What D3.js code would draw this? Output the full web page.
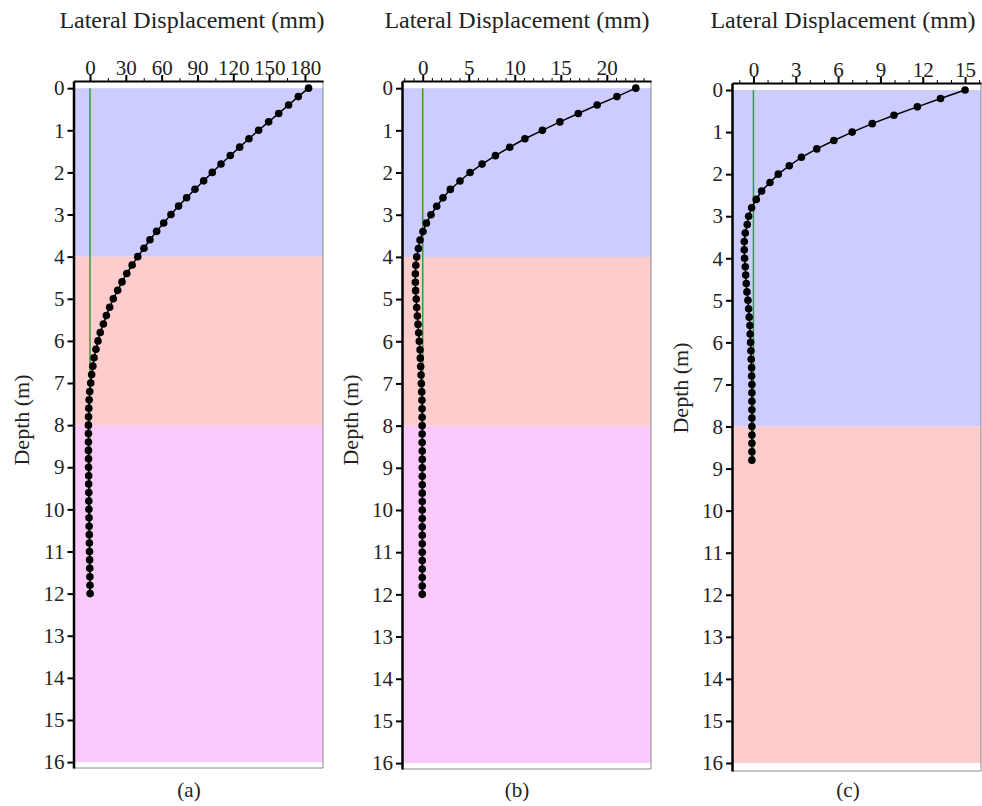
<!DOCTYPE html>
<html>
<head>
<meta charset="utf-8">
<script src="https://cdn.jsdelivr.net/npm/d3@7"></script>
<style>
  body { margin: 0; background: white; }
  svg { display: block; font-family: "Liberation Serif", "Times New Roman", serif; }
</style>
</head>
<body>
<div id="chart"></div>
<script>
// depth of each reading (m)
let depth12 = [0, 0.2, 0.4, 0.6, 0.8, 1.0, 1.2, 1.4, 1.6, 1.8,
  2.0, 2.2, 2.4, 2.6, 2.8, 3.0, 3.2, 3.4, 3.6, 3.8,
  4.0, 4.2, 4.4, 4.6, 4.8, 5.0, 5.2, 5.4, 5.6, 5.8,
  6.0, 6.2, 6.4, 6.6, 6.8, 7.0, 7.2, 7.4, 7.6, 7.8,
  8.0, 8.2, 8.4, 8.6, 8.8, 9.0, 9.2, 9.4, 9.6, 9.8,
  10.0, 10.2, 10.4, 10.6, 10.8, 11.0, 11.2, 11.4, 11.6, 11.8, 12.0];
let depth9 = [0, 0.2, 0.4, 0.6, 0.8, 1.0, 1.2, 1.4, 1.6, 1.8,
  2.0, 2.2, 2.4, 2.6, 2.8, 3.0, 3.2, 3.4, 3.6, 3.8,
  4.0, 4.2, 4.4, 4.6, 4.8, 5.0, 5.2, 5.4, 5.6, 5.8,
  6.0, 6.2, 6.4, 6.6, 6.8, 7.0, 7.2, 7.4, 7.6, 7.8,
  8.0, 8.2, 8.4, 8.6, 8.8];

// lateral displacement (mm)
let dispA = [183, 174.4, 166.3, 158, 149.6, 141.2, 133.1, 125.3, 117.5, 109.7,
  102.4, 95.2, 87.9, 80.9, 74.2, 67.8, 61.7, 55.8, 50.2, 45.2,
  40.0, 35.3, 30.8, 26.8, 23.2, 19.5, 16.5, 13.7, 11.2, 8.6,
  6.7, 5.0, 3.4, 2.4, 1.4, 0.6, -0.2, -0.7, -1.0, -1.2,
  -1.3, -1.3, -1.3, -1.3, -1.2, -1.2, -1.1, -1.1, -1.0, -1.0,
  -0.9, -0.8, -0.7, -0.6, -0.5, -0.4, -0.3, -0.2, -0.1, 0.0, 0.1];
let dispB = [23.15, 21.1, 18.95, 16.9, 14.9, 13.0, 11.1, 9.45, 7.9, 6.45,
  5.14, 4.05, 3.0, 2.2, 1.52, 0.9, 0.4, 0.03, -0.29, -0.47,
  -0.65, -0.75, -0.8, -0.8, -0.77, -0.7, -0.65, -0.58, -0.51, -0.44,
  -0.37, -0.29, -0.26, -0.22, -0.18, -0.15, -0.11, -0.08, -0.07, -0.06,
  -0.06, -0.06, -0.06, -0.05, -0.05, -0.05, -0.05, -0.05, -0.05, -0.05,
  -0.05, -0.05, -0.05, -0.05, -0.05, -0.05, -0.05, -0.05, -0.05, -0.05, -0.05];
let dispC = [15.0, 13.26, 11.62, 9.96, 8.42, 7.0, 5.7, 4.49, 3.4, 2.54,
  1.76, 1.17, 0.58, 0.2, -0.13, -0.34, -0.44, -0.58, -0.65, -0.65,
  -0.63, -0.58, -0.55, -0.51, -0.46, -0.39, -0.34, -0.3, -0.25, -0.23,
  -0.2, -0.18, -0.16, -0.13, -0.13, -0.11, -0.11, -0.11, -0.11, -0.11,
  -0.11, -0.11, -0.11, -0.11, -0.11];

// tick labels
let ticksA = [0, 30, 60, 90, 120, 150, 180];
let ticksB = [0, 5, 10, 15, 20];
let ticksC = [0, 3, 6, 9, 12, 15];
let depthTicks = [0, 1, 2, 3, 4, 5, 6, 7, 8, 9, 10, 11, 12, 13, 14, 15, 16];

// soil layers: [from, to]
let layersAB = [[0, 4], [4, 8], [8, 16]];
let layersC = [[0, 8], [8, 16]];
let layerColorsAB = ["#ccccfe", "#fdcccc", "#fbc9fb"];
let layerColorsC = ["#ccccfe", "#fdcccc"];

let panelNames = ["(a)", "(b)", "(c)"];

let w = 982;
let h = 806;
let serif = "'Liberation Serif', 'Times New Roman', serif";

let svg = d3.select("#chart")
  .append("svg")
    .attr("width", w)
    .attr("height", h)
;

function drawPanel(p) {
  let x = d3.scaleLinear().domain(p.xDomain).range([p.left, p.right]);
  let y = d3.scaleLinear().domain(p.yDomain).range([p.top, p.bottom]);
  let g = svg.append("g");

  //layers
  g.selectAll(".layer").data(p.layers)
    .enter()
    .append("rect")
      .attr("x", p.left)
      .attr("width", p.right - p.left)
      .attr("y", function(d){ return y(d[0]) })
      .attr("height", function(d){ return y(d[1]) - y(d[0]) })
      .style("fill", function(d, i){ return p.colors[i] })
  ;

  //frame right + bottom (thin grey)
  g.append("path")
    .attr("d", "M" + p.left + "," + p.bottom + "H" + p.right + "V" + p.top)
    .style("fill", "none")
    .style("stroke", "#8a8a8a")
    .style("stroke-width", 1)
  ;

  //zero line
  g.append("line")
    .attr("x1", x(0)).attr("x2", x(0))
    .attr("y1", y(0)).attr("y2", y(d3.max(p.depth)))
    .style("stroke", "#3a9a3a")
    .style("stroke-width", 1.5)
  ;

  //curve
  let pts = p.depth.map(function(d, i){ return [p.disp[i], d] });
  let line = d3.line()
    .x(function(d){ return x(d[0]) })
    .y(function(d){ return y(d[1]) });
  g.append("path")
    .datum(pts)
    .attr("d", line)
    .style("fill", "none")
    .style("stroke", "black")
    .style("stroke-width", 1.5)
  ;
  g.selectAll(".dot").data(pts)
    .enter()
    .append("circle")
      .attr("cx", function(d){ return x(d[0]) })
      .attr("cy", function(d){ return y(d[1]) })
      .attr("r", 3.8)
      .style("fill", "black")
  ;

  //minor ticks on top
  g.append("g")
    .attr("transform", "translate(0," + p.top + ")")
    .call(d3.axisTop(x).tickValues(p.minor).tickSize(3).tickFormat(""))
    .call(function(a){ a.select(".domain").remove() })
    .selectAll("line").style("stroke-width", 1)
  ;

  //top axis
  let top = g.append("g")
    .attr("transform", "translate(0," + p.top + ")")
    .call(d3.axisTop(x).tickValues(p.ticks).tickSize(6).tickSizeOuter(0).tickPadding(0))
    .attr("font-family", serif)
  ;
  top.select(".domain").style("stroke-width", 2);
  top.selectAll("line").style("stroke-width", 2);
  top.selectAll("text").style("font-size", "21px").style("fill", "#222");

  //left axis
  let left = g.append("g")
    .attr("transform", "translate(" + p.left + ",0)")
    .call(d3.axisLeft(y).tickValues(depthTicks).tickSize(6).tickSizeOuter(0).tickPadding(3))
    .attr("font-family", serif)
  ;
  left.select(".domain").style("stroke-width", 2.5);
  left.selectAll("line").style("stroke-width", 2);
  left.selectAll("text").style("font-size", "21px").style("fill", "#222");

  //titles
  g.append("text")
    .attr("x", p.titleX)
    .attr("y", 28)
    .attr("text-anchor", "middle")
    .style("font-size", "24px")
    .style("fill", "#222")
    .text("Lateral Displacement (mm)")
  ;
  g.append("text")
    .attr("transform", "translate(" + p.ylabelX + "," + p.ylabelY + ") rotate(-90)")
    .attr("text-anchor", "middle")
    .style("font-size", "22px")
    .style("fill", "#222")
    .text("Depth (m)")
  ;
  g.append("text")
    .attr("x", p.nameX)
    .attr("y", 797)
    .attr("text-anchor", "middle")
    .style("font-size", "21px")
    .style("fill", "#222")
    .text(p.name)
  ;
}

drawPanel({
  depth: depth12, disp: dispA, ticks: ticksA, minor: [15, 45, 75, 105, 135, 165],
  layers: layersAB, colors: layerColorsAB, name: panelNames[0],
  xDomain: [-13.8, 195.1], yDomain: [-0.17, 16.14],
  left: 73.5, right: 323, top: 81, bottom: 768,
  titleX: 192, ylabelX: 29, ylabelY: 420, nameX: 189
});
drawPanel({
  depth: depth12, disp: dispB, ticks: ticksB, minor: [-2, -1, 1, 2, 3, 4, 6, 7, 8, 9, 11, 12, 13, 14, 16, 17, 18, 19, 21, 22, 23, 24],
  layers: layersAB, colors: layerColorsAB, name: panelNames[1],
  xDomain: [-2.25, 24.8], yDomain: [-0.17, 16.14],
  left: 402, right: 651, top: 81, bottom: 769,
  titleX: 517, ylabelX: 358, ylabelY: 420, nameX: 517
});
drawPanel({
  depth: depth9, disp: dispC, ticks: ticksC, minor: [-1, 1, 2, 4, 5, 7, 8, 10, 11, 13, 14, 16],
  layers: layersC, colors: layerColorsC, name: panelNames[2],
  xDomain: [-1.52, 16.13], yDomain: [-0.167, 16.19],
  left: 732, right: 981, top: 83, bottom: 771,
  titleX: 843, ylabelX: 688, ylabelY: 388, nameX: 848
});
</script>
</body>
</html>
